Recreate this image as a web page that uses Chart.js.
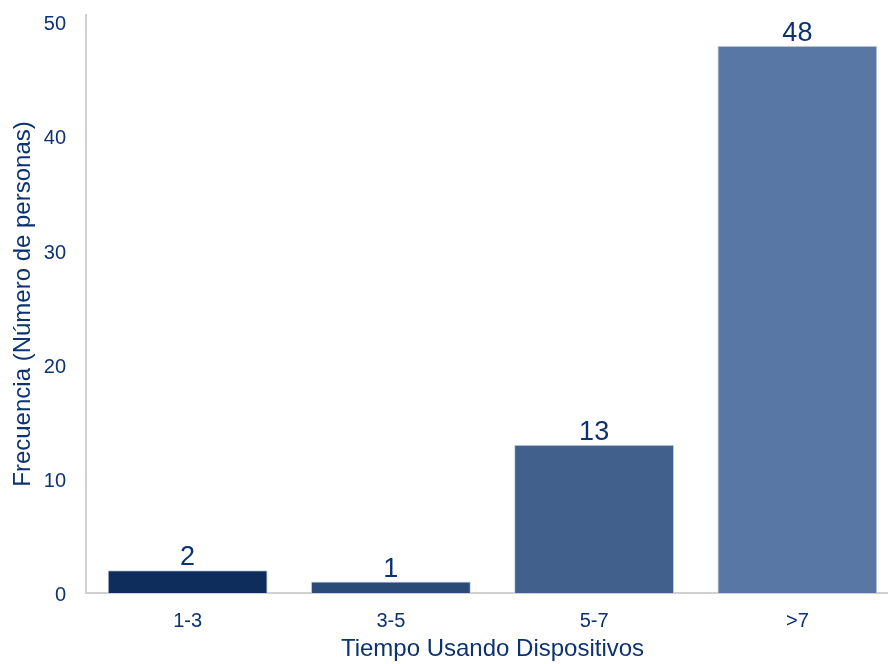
<!DOCTYPE html>
<html>
<head>
<meta charset="utf-8">
<script src="https://cdn.jsdelivr.net/npm/chart.js@4/dist/chart.umd.min.js"></script>
<style>
  html, body { margin: 0; padding: 0; background: #ffffff; }
  #wrap { width: 888px; height: 664px; overflow: hidden; }
</style>
</head>
<body>
<!-- canvas is a bit wider than the page: the last bar's slot runs past the right edge -->
<div id="wrap"><canvas id="freqChart" width="899" height="664"></canvas></div>
<script>
"use strict";

// data
var categories = ['1-3', '3-5', '5-7', '>7'];
var frequencies = [2, 1, 13, 48];
var barColors = ['#0e2d5c', '#2a4a78', '#42608c', '#5877a5'];
var yTicks = [0, 10, 20, 30, 40, 50];

var textColor = '#0c3270';
var axisColor = '#d0d0d0';
var fontFamily = "'Liberation Sans', Arial, sans-serif";

// value labels above each bar
var valueLabels = {
    id: 'valueLabels',
    afterDatasetsDraw: function (chart) {
        var ctx = chart.ctx;
        var meta = chart.getDatasetMeta(0);
        ctx.save();
        ctx.fillStyle = textColor;
        ctx.font = '27px ' + fontFamily;
        ctx.textAlign = 'center';
        ctx.textBaseline = 'bottom';
        meta.data.forEach(function (bar, i) {
            ctx.fillText(String(frequencies[i]), bar.x, bar.y + 1);
        });
        ctx.restore();
    }
};

new Chart(document.getElementById('freqChart'), {
    type: 'bar',
    data: {
        labels: categories,
        datasets: [{
            data: frequencies,
            backgroundColor: barColors,
            borderColor: '#c9d1de',
            borderWidth: 1,
            categoryPercentage: 1,
            barPercentage: 0.787
        }]
    },
    options: {
        responsive: false,
        animation: false,
        layout: { padding: { top: 15, right: 0, left: 0, bottom: 0 } },
        plugins: {
            legend: { display: false },
            tooltip: { enabled: false }
        },
        scales: {
            x: {
                grid: { display: false, drawTicks: false },
                border: { display: true, color: axisColor, width: 2 },
                ticks: {
                    color: textColor,
                    padding: 16,
                    font: { family: fontFamily, size: 20 }
                },
                title: {
                    display: true,
                    text: 'Tiempo Usando Dispositivos',
                    color: textColor,
                    padding: { top: 4, bottom: 0 },
                    font: { family: fontFamily, size: 24 }
                },
                afterFit: function (scale) {
                    scale.height = 71;
                    scale.paddingLeft = 0;
                    scale.paddingRight = 0;
                }
            },
            y: {
                min: 0,
                max: 50.7,
                grid: { display: false, drawTicks: false },
                border: { display: true, color: axisColor, width: 2 },
                ticks: {
                    color: textColor,
                    padding: 20,
                    labelOffset: 2,
                    font: { family: fontFamily, size: 20 }
                },
                afterBuildTicks: function (scale) {
                    scale.ticks = yTicks.map(function (v) { return { value: v }; });
                },
                title: {
                    display: true,
                    text: 'Frecuencia (Número de personas)',
                    color: textColor,
                    padding: { top: 9, bottom: 4 },
                    font: { family: fontFamily, size: 24 }
                },
                afterFit: function (scale) {
                    scale.width = 86;
                    scale.paddingTop = 0;
                    scale.paddingBottom = 0;
                }
            }
        }
    },
    plugins: [valueLabels]
});
</script>
</body>
</html>
